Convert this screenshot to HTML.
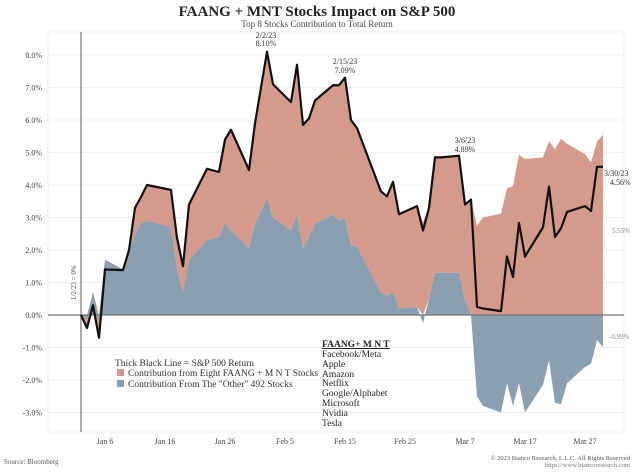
<!DOCTYPE html>
<html><head><meta charset="utf-8">
<style>
body{margin:0;background:#fff;width:634px;height:472px;overflow:hidden}
svg{display:block;font-family:"Liberation Serif",serif}
</style></head>
<body>
<svg id="chart" width="634" height="472" viewBox="0 0 634 472" xmlns="http://www.w3.org/2000/svg">
<text x="317" y="16" text-anchor="middle" font-size="15" font-weight="bold" fill="#222">FAANG + MNT Stocks Impact on S&amp;P 500</text>
<text x="317" y="27" text-anchor="middle" font-size="9" fill="#444">Top 8 Stocks Contribution to Total Return</text>
<g id="grid"></g>
<g id="areas"></g>
<g id="axes"></g>
<g id="line"></g>
<g id="labels" font-size="8" fill="#333">
<text x="266" y="38" text-anchor="middle">2/2/23</text>
<text x="266" y="46" text-anchor="middle">8.10%</text>
<text x="345" y="64" text-anchor="middle">2/15/23</text>
<text x="345" y="73" text-anchor="middle">7.09%</text>
<text x="465" y="143" text-anchor="middle">3/6/23</text>
<text x="465" y="152" text-anchor="middle">4.89%</text>
<text x="604" y="176">3/30/23</text>
<text x="610" y="185">4.56%</text>
<text x="612" y="233" font-size="7" fill="#888">5.55%</text>
<text x="609" y="339" font-size="7" fill="#888">-0.99%</text>
<text transform="translate(76,300) rotate(-90)" font-size="7" fill="#555">1/2/23 = 0%</text>
</g>
<g font-size="9.5" fill="#333">
<text x="115" y="366">Thick Black Line = S&amp;P 500 Return</text>
<rect x="117" y="369" width="7" height="7" fill="#d49a8c"/>
<text x="128" y="376">Contribution from Eight FAANG + M N T Stocks</text>
<rect x="117" y="380" width="7" height="7" fill="#8aa0b0"/>
<text x="128" y="387">Contribution From The "Other" 492 Stocks</text>
</g>
<g font-size="9.5" fill="#222">
<text x="322" y="347" font-weight="bold" text-decoration="underline">FAANG+ M N T</text>
<text x="322" y="357">Facebook/Meta</text>
<text x="322" y="367">Apple</text>
<text x="322" y="377">Amazon</text>
<text x="322" y="386">Netflix</text>
<text x="322" y="396">Google/Alphabet</text>
<text x="322" y="406">Microsoft</text>
<text x="322" y="416">Nvidia</text>
<text x="322" y="426">Tesla</text>
</g>
<text x="4" y="464" font-size="7" fill="#555">Source: Bloomberg</text>
<text x="630" y="460" font-size="6.5" fill="#555" text-anchor="end">© 2023 Bianco Research, L.L.C. All Rights Reserved</text>
<text x="630" y="467" font-size="6.5" fill="#777" text-anchor="end">https://www.biancoresearch.com</text>
</svg>
<script>
const dates = ["2023-01-02","2023-01-03","2023-01-04","2023-01-05","2023-01-06","2023-01-09","2023-01-10","2023-01-11","2023-01-12","2023-01-13","2023-01-17","2023-01-18","2023-01-19","2023-01-20","2023-01-23","2023-01-24","2023-01-25","2023-01-26","2023-01-27","2023-01-30","2023-01-31","2023-02-01","2023-02-02","2023-02-03","2023-02-06","2023-02-07","2023-02-08","2023-02-09","2023-02-10","2023-02-13","2023-02-14","2023-02-15","2023-02-16","2023-02-17","2023-02-21","2023-02-22","2023-02-23","2023-02-24","2023-02-27","2023-02-28","2023-03-01","2023-03-02","2023-03-03","2023-03-06","2023-03-07","2023-03-08","2023-03-09","2023-03-10","2023-03-13","2023-03-14","2023-03-15","2023-03-16","2023-03-17","2023-03-20","2023-03-21","2023-03-22","2023-03-23","2023-03-24","2023-03-27","2023-03-28","2023-03-29","2023-03-30"];
const sp500 = [0,-0.4,0.3,-0.7,1.4,1.38,2.0,3.3,3.63,4.0,3.85,2.37,1.5,3.4,4.5,4.45,4.4,5.4,5.7,4.46,5.9,7.0,8.1,7.1,6.55,7.7,5.85,6.05,6.6,7.07,7.07,7.3,6.0,5.75,3.8,3.65,4.1,3.1,3.35,2.6,3.3,4.85,4.85,4.9,3.4,3.55,0.25,0.2,0.12,1.8,1.17,2.83,1.8,2.7,3.95,2.4,2.67,3.17,3.35,3.2,4.56,4.56];
const other = [0,-0.1,0.7,-0.2,1.7,1.4,2.0,2.5,2.83,2.9,2.7,1.4,0.7,1.7,2.3,2.35,2.4,2.83,2.6,2.06,2.8,3.2,3.6,3.0,2.6,3.1,2.06,2.4,2.8,3.1,2.9,3.0,2.15,2.1,0.68,0.6,0.7,0.2,0.25,-0.25,0.5,1.3,1.3,1.3,0.45,0,-2.5,-2.8,-3.0,-2.1,-2.8,-2.1,-3.0,-2.15,-1.4,-2.7,-2.75,-2.1,-1.6,-1.5,-0.77,-0.99];
const yTicks = [-3,-2,-1,0,1,2,3,4,5,6,7,8];
const xTickLabels = ["Jan 6","Jan 16","Jan 26","Feb 5","Feb 15","Feb 25","Mar 7","Mar 17","Mar 27"];
const xTickDates = ["2023-01-06","2023-01-16","2023-01-26","2023-02-05","2023-02-15","2023-02-25","2023-03-07","2023-03-17","2023-03-27"];

const NS="http://www.w3.org/2000/svg";
const base=Date.UTC(2023,0,2);
function xs(d){const t=Date.parse(d+"T00:00:00Z");return 81+(t-base)/86400000*6;}
function ys(v){return 315-v*32.5;}
function mk(tag,attrs,parent){const e=document.createElementNS(NS,tag);for(const k in attrs)e.setAttribute(k,attrs[k]);parent.appendChild(e);return e;}

const grid=document.getElementById('grid');
mk('rect',{x:48,y:32,width:576,height:400,fill:'none',stroke:'#eee','stroke-width':1},grid);
yTicks.forEach(v=>{
  const l=mk('line',{x1:48,x2:624,y1:ys(v),y2:ys(v),stroke:'#f0f0f0','stroke-width':1},grid);
  
  
  const t=mk('text',{x:42,y:ys(v)+3,'text-anchor':'end','font-size':8,fill:'#444'},grid);
  
  
  t.textContent=v.toFixed(1)+'%';
});
xTickLabels.forEach((lab,i)=>{
  const t=mk('text',{x:xs(xTickDates[i]),y:444,'text-anchor':'middle','font-size':8,fill:'#444'},grid);
  
  
  t.textContent=lab;
});

const areas=document.getElementById('areas');
let bp=`M${xs(dates[0])},${ys(0)}`;
dates.forEach((d,i)=>{bp+=` L${xs(d)},${ys(other[i])}`;});
bp+=` L${xs(dates[dates.length-1])},${ys(0)} Z`;
let lo=[],hi=[];
dates.forEach((d,i)=>{const b=Math.max(other[i],0);const f=sp500[i]-other[i];lo.push([xs(d),ys(b)]);hi.push([xs(d),ys(b+f)]);});
let pp='M'+hi.map(p=>p.join(',')).join(' L')+' L'+lo.reverse().map(p=>p.join(',')).join(' L')+' Z';
const pink=mk('path',{d:pp,fill:'#d49a8c'},areas);


const blue=mk('path',{d:bp,fill:'#8aa0b0'},areas);



const axes=document.getElementById('axes');
const zl=mk('line',{x1:48,x2:624,y1:ys(0),y2:ys(0),stroke:'#777','stroke-width':1.2},axes);


const vl=mk('line',{x1:81,x2:81,y1:32,y2:432,stroke:'#555','stroke-width':1},axes);



const lg=document.getElementById('line');
const ln=mk('polyline',{points:dates.map((d,i)=>xs(d)+','+ys(sp500[i])).join(' '),fill:'none',stroke:'#111','stroke-width':2.2,'stroke-linejoin':'round'},lg);


</script>
</body></html>
